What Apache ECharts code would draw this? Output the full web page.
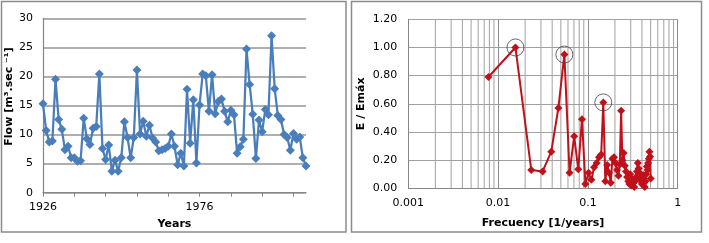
<!DOCTYPE html>
<html>
<head>
<meta charset="utf-8">
<script src="https://cdn.jsdelivr.net/npm/echarts@6/dist/echarts.min.js"></script>
<style>
html,body{margin:0;padding:0;background:#fff;}
#c{width:709px;height:243px;}
</style>
</head>
<body>
<div id="c"></div>
<script>
// ---- Left chart: annual flow ----
const startYear = 1926;
const flow = [
  15.3, 10.7, 8.7, 8.9, 19.5, 12.6, 10.9, 7.4, 8.0, 6.0,
  6.0, 5.4, 5.5, 12.8, 9.3, 8.3, 11.1, 11.4, 20.4, 7.6,
  5.7, 8.2, 3.7, 5.6, 3.7, 6.0, 12.2, 9.5, 6.0, 9.5,
  21.1, 10.1, 12.3, 9.7, 11.6, 9.4, 8.7, 7.2, 7.4, 7.6,
  8.0, 10.1, 8.0, 4.8, 6.8, 4.6, 17.8, 8.5, 16.0, 5.1,
  15.1, 20.4, 20.1, 14.0, 20.3, 13.6, 15.7, 16.1, 14.0, 12.2,
  14.2, 13.4, 6.8, 7.9, 9.2, 24.7, 18.6, 13.5, 5.9, 12.5,
  10.5, 14.3, 13.4, 27.0, 17.9, 13.3, 12.6, 10.0, 9.5, 7.3,
  10.2, 9.2, 9.6, 6.0, 4.6
];
const years = flow.map((_, i) => String(startYear + i));

// ---- Right chart: normalized spectrum ----
const freq = [
  0.0078, 0.0156, 0.0234, 0.0313, 0.0391, 0.0469, 0.0547, 0.0625,
  0.0703, 0.0781, 0.0859, 0.0938, 0.1016, 0.1094, 0.1172, 0.125,
  0.1328, 0.1406, 0.1484, 0.1563, 0.1641, 0.1719, 0.1797, 0.1875,
  0.1953, 0.2031, 0.2109, 0.2188, 0.2266, 0.2344, 0.2422, 0.25,
  0.2578, 0.2656, 0.2734, 0.2813, 0.2891, 0.2969, 0.3047, 0.3125,
  0.3203, 0.3281, 0.3359, 0.3438, 0.3516, 0.3594, 0.3672, 0.375,
  0.3828, 0.3906, 0.3984, 0.4063, 0.4141, 0.4219, 0.4297, 0.4375,
  0.4453, 0.4531, 0.4609, 0.4688, 0.4766, 0.4844, 0.4922, 0.5
];
const energy = [
  0.79, 1.00, 0.13, 0.12, 0.26, 0.57, 0.95, 0.11,
  0.37, 0.135, 0.49, 0.03, 0.11, 0.06, 0.15, 0.18,
  0.22, 0.24, 0.61, 0.05, 0.165, 0.11, 0.04, 0.21,
  0.22, 0.18, 0.13, 0.09, 0.17, 0.55, 0.20, 0.25,
  0.16, 0.12, 0.08, 0.05, 0.03, 0.10, 0.02, 0.06,
  0.04, 0.01, 0.05, 0.08, 0.12, 0.18, 0.14, 0.11,
  0.07, 0.05, 0.03, 0.06, 0.095, 0.04, 0.01, 0.05,
  0.10, 0.155, 0.13, 0.18, 0.21, 0.26, 0.225, 0.07
];
const peakIdx = [1, 6, 18];
const logDecades = [0.001, 0.01, 0.1];
const minorMult = [2, 3, 4, 5, 6, 7, 8, 9];

const FONT = 'DejaVu Sans';
const minorSeries = [];
logDecades.forEach(d => minorMult.forEach(m => {
  const x = +(d * m).toPrecision(3);
  minorSeries.push({
    type: 'line', xAxisIndex: 1, yAxisIndex: 1, silent: true,
    data: [[x, 0], [x, 1.2]], symbol: 'none',
    lineStyle: {color: '#a0a0a0', width: 1}, z: 1, animation: false
  });
}));

const chart = echarts.init(document.getElementById('c'), null, {renderer: 'canvas'});
chart.setOption({
  animation: false,
  backgroundColor: '#fff',
  textStyle: {fontFamily: FONT},
  graphic: [
    {type: 'rect', shape: {x: 1.5, y: 1.5, width: 344.5, height: 230.5}, style: {fill: 'none', stroke: '#8c8c8c', lineWidth: 1.5}, silent: true, z: -1},
    {type: 'rect', shape: {x: 351.5, y: 1.5, width: 350, height: 230.5}, style: {fill: 'none', stroke: '#8c8c8c', lineWidth: 1.5}, silent: true, z: -1}
  ],
  grid: [
    {left: 43, right: 403, top: 18.3, bottom: 50.3, containLabel: false},
    {left: 408.3, right: 31.3, top: 19.3, bottom: 54.7, containLabel: false}
  ],
  xAxis: [
    {
      gridIndex: 0, type: 'category', data: years, boundaryGap: false,
      axisLine: {lineStyle: {color: '#868686', width: 1.2}},
      axisTick: {show: true, interval: 9, length: 4, lineStyle: {color: '#868686'}},
      axisLabel: {interval: 49, color: '#000', fontFamily: FONT, fontSize: 11, margin: 9},
      splitLine: {show: false},
      name: 'Years', nameLocation: 'middle', nameGap: 26,
      nameTextStyle: {fontFamily: FONT, fontWeight: 'bold', fontSize: 11, color: '#000'}
    },
    {
      gridIndex: 1, type: 'log', logBase: 10, min: 0.001, max: 1,
      axisLine: {show: true, lineStyle: {color: '#868686', width: 1}},
      axisTick: {show: false},
      axisLabel: {color: '#000', fontFamily: FONT, fontSize: 11, margin: 9,
        formatter: v => String(+(+v).toPrecision(6))},
      splitLine: {show: true, showMinLine: true, showMaxLine: true, lineStyle: {color: '#8c8c8c', width: 1}},
      name: 'Frecuency [1/years]', nameLocation: 'middle', nameGap: 29,
      nameTextStyle: {fontFamily: FONT, fontWeight: 'bold', fontSize: 11, color: '#000'}
    }
  ],
  yAxis: [
    {
      gridIndex: 0, type: 'value', min: 0, max: 30, interval: 5,
      axisLine: {show: true, lineStyle: {color: '#868686', width: 1.2}},
      axisTick: {show: false},
      axisLabel: {color: '#000', fontFamily: FONT, fontSize: 11, margin: 10},
      splitLine: {show: true, lineStyle: {color: '#959595', width: 1.5}},
      name: 'Flow [m³.sec ⁻¹]', nameLocation: 'middle', nameGap: 27,
      nameTextStyle: {fontFamily: FONT, fontWeight: 'bold', fontSize: 11, color: '#000', padding: [0, 0, 0, 18]}
    },
    {
      gridIndex: 1, type: 'value', min: 0, max: 1.2, interval: 0.2,
      axisLine: {show: true, lineStyle: {color: '#868686', width: 1}},
      axisTick: {show: false},
      axisLabel: {color: '#000', fontFamily: FONT, fontSize: 11, margin: 11, formatter: v => v.toFixed(2)},
      splitLine: {show: true, lineStyle: {color: '#a0a0a0', width: 1}},
      name: 'E / Emáx', nameLocation: 'middle', nameGap: 42,
      nameTextStyle: {fontFamily: FONT, fontWeight: 'bold', fontSize: 11, color: '#000'}
    }
  ],
  series: [
    {
      type: 'line', xAxisIndex: 0, yAxisIndex: 0, data: flow,
      symbol: 'diamond', symbolSize: 9, showAllSymbol: true,
      lineStyle: {color: '#4A7EBB', width: 2.25},
      itemStyle: {color: '#4A7EBB'},
      z: 3
    },
    {
      type: 'line', xAxisIndex: 1, yAxisIndex: 1,
      data: freq.map((f, i) => [f, energy[i]]),
      symbol: 'diamond', symbolSize: 8, showAllSymbol: true,
      lineStyle: {color: '#C0101A', width: 2},
      itemStyle: {color: '#C0101A'},
      z: 3
    },
    {
      type: 'scatter', xAxisIndex: 1, yAxisIndex: 1,
      data: peakIdx.map(i => [freq[i], energy[i]]),
      symbol: 'circle', symbolSize: 17,
      itemStyle: {color: 'rgba(0,0,0,0)', borderColor: '#404040', borderWidth: 1},
      z: 4
    }
  ].concat(minorSeries)
});
</script>
</body>
</html>
